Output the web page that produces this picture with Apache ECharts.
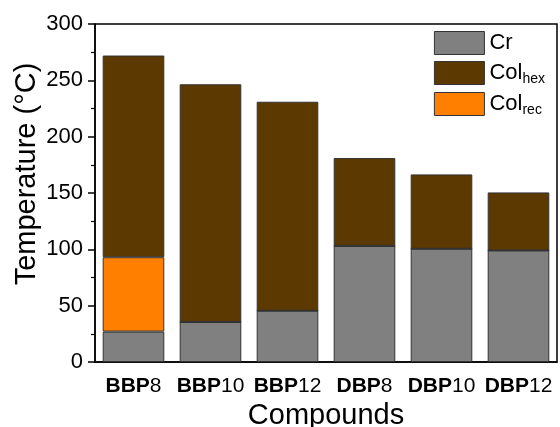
<!DOCTYPE html>
<html>
<head>
<meta charset="utf-8">
<script src="https://cdn.jsdelivr.net/npm/echarts@6/dist/echarts.min.js"></script>
<style>
  html, body { margin: 0; padding: 0; background: #fff; }
  #chart { width: 560px; height: 427px; }
</style>
</head>
<body>
<div id="chart"></div>
<script>
// compounds on the x axis
var categories = ['BBP8', 'BBP10', 'BBP12', 'DBP8', 'DBP10', 'DBP12']
// stacked segment heights (°C)
var crValues = [27, 35.5, 45.5, 103, 100.5, 99]
var colRecValues = [66, 0, 0, 0, 0, 0]
var colHexValues = [179, 211, 185.5, 78, 66, 51.5]
var yTicks = { min: 0, max: 300, interval: 50 }

var FONT = 'Liberation Sans, Arial, sans-serif'
var legendNames = { Cr: '{n|Cr}', Colhex: '{n|Col}{s|hex}', Colrec: '{n|Col}{s|rec}' }

var chart = echarts.init(document.getElementById('chart'))
chart.setOption({
  animation: false,
  textStyle: { fontFamily: FONT, color: '#000' },
  grid: {
    left: 95, right: 3, top: 24, bottom: 65,
    outerBoundsMode: 'none',
    show: true, borderColor: '#000', borderWidth: 1.5
  },
  legend: {
    data: ['Cr', 'Colhex', 'Colrec'],
    orient: 'vertical',
    right: 10, top: 26,
    itemWidth: 50, itemHeight: 23, itemGap: 6,
    icon: 'rect',
    itemStyle: { borderColor: '#333', borderWidth: 1 },
    formatter: function (name) { return legendNames[name] },
    textStyle: {
      rich: {
        n: { fontSize: 22, fontFamily: FONT, color: '#000' },
        s: { fontSize: 14, fontFamily: FONT, color: '#000', padding: [12, 0, 0, 0] }
      }
    }
  },
  xAxis: {
    type: 'category',
    data: categories,
    name: 'Compounds',
    nameLocation: 'middle',
    nameGap: 39,
    nameMoveOverlap: false,
    nameTextStyle: { fontSize: 29, fontFamily: FONT, color: '#000' },
    axisLine: { lineStyle: { color: '#000', width: 1.5 } },
    axisTick: { alignWithLabel: true, length: 6, lineStyle: { color: '#000', width: 1.5 } },
    axisLabel: {
      interval: 0,
      margin: 14,
      formatter: function (v) {
        var m = v.match(/^([A-Z]+)(\d+)$/)
        return '{b|' + m[1] + '}{r|' + m[2] + '}'
      },
      rich: {
        b: { fontSize: 21, fontWeight: 'bold', fontFamily: FONT, color: '#000' },
        r: { fontSize: 21, fontFamily: FONT, color: '#000' }
      }
    }
  },
  yAxis: {
    type: 'value',
    min: yTicks.min, max: yTicks.max, interval: yTicks.interval,
    name: 'Temperature (°C)',
    nameLocation: 'middle',
    nameGap: 54,
    nameMoveOverlap: false,
    nameTextStyle: { fontSize: 29, fontFamily: FONT, color: '#000', padding: [0, 0, 0, 38] },
    axisLine: { show: true, lineStyle: { color: '#000', width: 1.5 } },
    axisTick: { show: true, length: 7, lineStyle: { color: '#000', width: 1.5 } },
    minorTick: { show: true, splitNumber: 2, length: 4, lineStyle: { color: '#000', width: 1.2 } },
    axisLabel: { fontSize: 22, fontFamily: FONT, color: '#000', margin: 12 },
    splitLine: { show: false }
  },
  series: [
    {
      name: 'Cr', type: 'bar', stack: 'T', data: crValues, barCategoryGap: '20%',
      itemStyle: { color: '#808080', borderColor: '#333', borderWidth: 1 }
    },
    {
      name: 'Colrec', type: 'bar', stack: 'T', data: colRecValues,
      itemStyle: { color: '#FF8000', borderColor: '#333', borderWidth: 1 }
    },
    {
      name: 'Colhex', type: 'bar', stack: 'T', data: colHexValues,
      itemStyle: { color: '#5C3900', borderColor: '#333', borderWidth: 1 }
    }
  ]
})
</script>
</body>
</html>
